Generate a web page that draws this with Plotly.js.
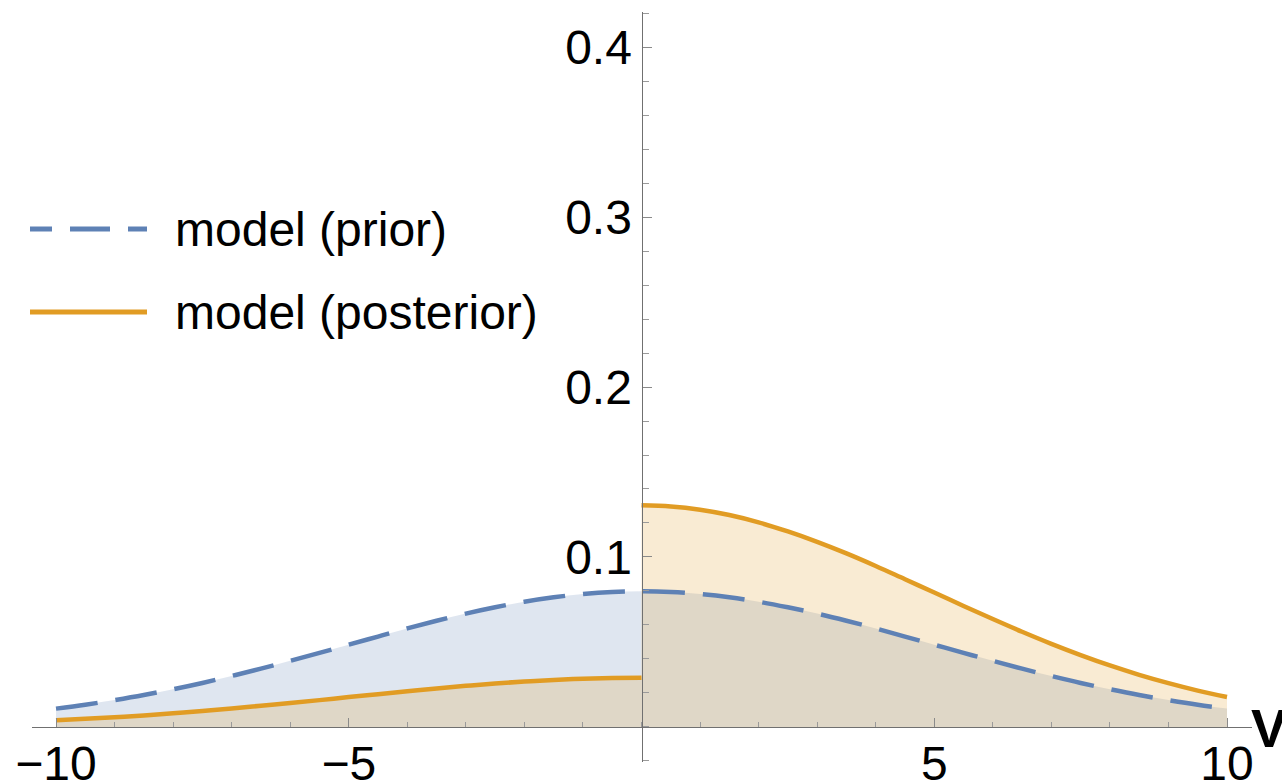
<!DOCTYPE html>
<html>
<head>
<meta charset="utf-8">
<script src="https://cdn.plot.ly/plotly-3.0.1.min.js"></script>
<style>html,body{margin:0;padding:0;background:#fff;}#chart{width:1282px;height:783px;}</style>
</head>
<body>
<div id="chart"></div>
<script>
// Data (values at half-unit steps)
const xLeft = [-10,-9.5,-9,-8.5,-8,-7.5,-7,-6.5,-6,-5.5,-5,-4.5,-4,-3.5,-3,-2.5,-2,-1.5,-1,-0.5,0];
const xRight = [0,0.5,1,1.5,2,2.5,3,3.5,4,4.5,5,5.5,6,6.5,7,7.5,8,8.5,9,9.5,10];
const priorLeft = [0.0108,0.0131,0.0158,0.0188,0.0222,0.0259,0.0300,0.0343,0.0389,0.0436,0.0484,
                   0.0532,0.0580,0.0625,0.0667,0.0704,0.0737,0.0763,0.0782,0.0794,0.0798];
const priorRight = [0.0798,0.0794,0.0782,0.0763,0.0737,0.0704,0.0667,0.0625,0.0580,0.0532,0.0484,
                    0.0436,0.0389,0.0343,0.0300,0.0259,0.0222,0.0188,0.0158,0.0131,0.0108];
const posteriorLeft = [0.0039,0.0048,0.0057,0.0068,0.0081,0.0094,0.0109,0.0125,0.0141,0.0158,0.0176,
                       0.0193,0.0210,0.0227,0.0242,0.0256,0.0267,0.0277,0.0284,0.0288,0.0290];
const posteriorRight = [0.1304,0.1297,0.1278,0.1247,0.1204,0.1150,0.1089,0.1021,0.0947,0.0869,0.0791,
                        0.0712,0.0635,0.0560,0.0489,0.0423,0.0362,0.0307,0.0258,0.0214,0.0176];
const seriesNames = ["model (prior)", "model (posterior)"];
const xTickVals = [-10,-5,5,10];
const xTickText = ["\u221210","\u22125","5","10"];
const yTickVals = [0.1,0.2,0.3,0.4];
const yTickText = ["0.1","0.2","0.3","0.4"];
const axisLabel = "V";

const xPrior = xLeft.concat(xRight.slice(1));
const priorValues = priorLeft.concat(priorRight.slice(1));

const blue = "#5E81B5", orange = "#E19C24";
const blueFill = "rgba(94,129,181,0.2)", orangeFill = "rgba(225,156,36,0.2)";
const FONT = "Liberation Sans, Arial, sans-serif";

// Plot area pixel geometry
const L = 32, R = 1252, T = 12, B = 762, W = 1282, H = 783;
const px = v => (v - L) / (R - L);
const py = v => (B - v) / (B - T);

const traces = [
  {x: xPrior, y: priorValues, mode: "lines", line: {width: 0, shape: "spline"}, fill: "tozeroy", fillcolor: blueFill, hoverinfo: "skip", showlegend: false},
  {x: xLeft, y: posteriorLeft, mode: "lines", line: {width: 0, shape: "spline"}, fill: "tozeroy", fillcolor: orangeFill, hoverinfo: "skip", showlegend: false},
  {x: xRight, y: posteriorRight, mode: "lines", line: {width: 0, shape: "spline"}, fill: "tozeroy", fillcolor: orangeFill, hoverinfo: "skip", showlegend: false},
  {x: xPrior, y: priorValues, mode: "lines", name: seriesNames[0], line: {color: blue, width: 4.5, dash: "42px,18px", shape: "spline"}, showlegend: false},
  {x: xLeft, y: posteriorLeft, mode: "lines", name: seriesNames[1], line: {color: orange, width: 4.5, shape: "spline"}, showlegend: false},
  {x: xRight, y: posteriorRight, mode: "lines", name: seriesNames[1], line: {color: orange, width: 4.5, shape: "spline"}, showlegend: false}
];

const xmin = -10.41, xmax = 10.427, ymin = -0.0206, ymax = 0.4206;

const layout = {
  width: W, height: H,
  margin: {l: L, r: W - R, t: T, b: H - B, pad: 0},
  paper_bgcolor: "#fff", plot_bgcolor: "rgba(0,0,0,0)",
  showlegend: false,
  font: {family: FONT, size: 48, color: "#000"},
  xaxis: {
    range: [xmin, xmax], anchor: "free", position: (0 - ymin) / (ymax - ymin),
    showgrid: false, zeroline: false, showline: true, linecolor: "#707070", linewidth: 1,
    ticks: "inside", ticklen: 9, tickwidth: 1, tickcolor: "#8a8a8a",
    tickmode: "array", tickvals: xTickVals, ticktext: xTickText, ticklabelstandoff: -6,
    tickfont: {family: FONT, size: 48, color: "#000"},
    minor: {ticks: "inside", tick0: 0, dtick: 1, ticklen: 5, tickcolor: "#9a9a9a", tickwidth: 1, showgrid: false}
  },
  yaxis: {
    range: [ymin, ymax], anchor: "free", position: (0 - xmin) / (xmax - xmin),
    showgrid: false, zeroline: false, showline: true, linecolor: "#707070", linewidth: 1,
    ticks: "inside", ticklen: 9, tickwidth: 1, tickcolor: "#8a8a8a",
    tickmode: "array", tickvals: yTickVals, ticktext: yTickText,
    tickfont: {family: FONT, size: 48, color: "#000"},
    minor: {ticks: "inside", tick0: 0, dtick: 0.02, ticklen: 6, tickcolor: "#9a9a9a", tickwidth: 1, showgrid: false}
  },
  shapes: [
    {type: "line", xref: "paper", yref: "paper", x0: px(30), x1: px(52), y0: py(229), y1: py(229), line: {color: blue, width: 5}},
    {type: "line", xref: "paper", yref: "paper", x0: px(70), x1: px(110), y0: py(229), y1: py(229), line: {color: blue, width: 5}},
    {type: "line", xref: "paper", yref: "paper", x0: px(128), x1: px(147), y0: py(229), y1: py(229), line: {color: blue, width: 5}},
    {type: "line", xref: "paper", yref: "paper", x0: px(30), x1: px(147), y0: py(312), y1: py(312), line: {color: orange, width: 5}}
  ],
  annotations: [
    {xref: "paper", yref: "paper", x: px(174), y: py(229), xanchor: "left", yanchor: "middle", text: seriesNames[0], showarrow: false, font: {family: FONT, size: 48, color: "#000"}, borderpad: 0},
    {xref: "paper", yref: "paper", x: px(174), y: py(312), xanchor: "left", yanchor: "middle", text: seriesNames[1], showarrow: false, font: {family: FONT, size: 48, color: "#000"}, borderpad: 0},
    {xref: "paper", yref: "paper", x: px(1250), y: py(728), xanchor: "left", yanchor: "middle", text: "<b>" + axisLabel + "</b>", showarrow: false, font: {family: FONT, size: 54, color: "#000"}, borderpad: 0}
  ]
};

Plotly.newPlot("chart", traces, layout, {staticPlot: true, displayModeBar: false});
</script>
</body>
</html>
